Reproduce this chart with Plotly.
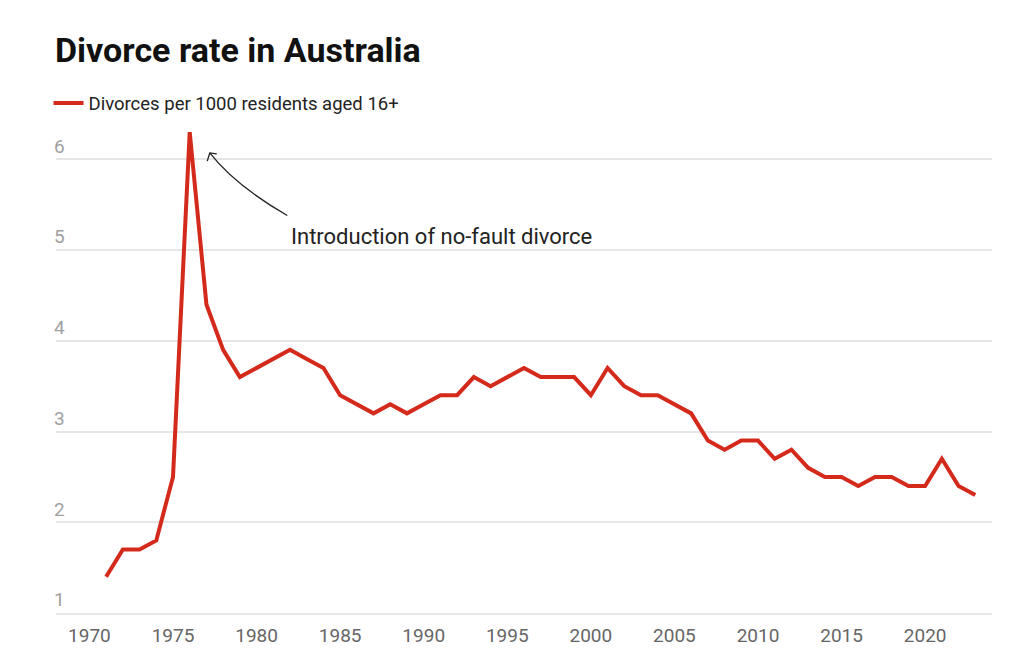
import plotly.graph_objects as go

years = list(range(1971, 2024))
rate = [1.4, 1.7, 1.7, 1.8, 2.5, 6.3, 4.4, 3.9, 3.6, 3.7,
        3.8, 3.9, 3.8, 3.7, 3.4, 3.3, 3.2, 3.3, 3.2, 3.3,
        3.4, 3.4, 3.6, 3.5, 3.6, 3.7, 3.6, 3.6, 3.6, 3.4,
        3.7, 3.5, 3.4, 3.4, 3.3, 3.2, 2.9, 2.8, 2.9, 2.9,
        2.7, 2.8, 2.6, 2.5, 2.5, 2.4, 2.5, 2.5, 2.4, 2.4,
        2.7, 2.4, 2.3]

x_ticks = [1970, 1975, 1980, 1985, 1990, 1995, 2000, 2005, 2010, 2015, 2020]
y_ticks = [1, 2, 3, 4, 5, 6]

series_name = "Divorces per 1000 residents aged 16+"
title_text = "Divorce rate in Australia"
note_text = "Introduction of no-fault divorce"

RED = "#d42a1c"
FONT = "Roboto"

fig = go.Figure()
fig.add_trace(go.Scatter(x=years, y=rate, mode="lines", name=series_name,
                         line=dict(color=RED, width=4), showlegend=True))

# curved arrow for the annotation
fig.add_shape(type="path", xref="x", yref="y",
              path="M 1981.84 5.38 Q 1978.73 5.71 1977.2 6.07",
              line=dict(color="#222222", width=1.3))
fig.add_shape(type="path", xref="x", yref="y",
              path="M 1977.05 5.98 L 1977.2 6.07 L 1977.62 6.06",
              line=dict(color="#222222", width=1.3))

fig.add_annotation(x=1981.95, y=5.15, xref="x", yref="y", text=note_text,
                   showarrow=False, xanchor="left", yanchor="middle",
                   font=dict(family=FONT, size=22, color="#222222"))

fig.update_layout(
    width=1024, height=661,
    margin=dict(l=56, r=32, t=123, b=48),
    paper_bgcolor="white", plot_bgcolor="white",
    font=dict(family=FONT),
    title=dict(text="<b>" + title_text + "</b>", x=55/1024, xref="container",
               xanchor="left", y=1-50/661, yanchor="middle",
               font=dict(family=FONT, size=34, color="#111111")),
    legend=dict(orientation="h", x=-0.008, xanchor="left", y=1.04, yanchor="middle",
                yref="paper", font=dict(family=FONT, size=18.5, color="#222222"),
                itemwidth=30),
    xaxis=dict(range=[1968, 2024], tickvals=x_ticks, ticktext=[str(v) for v in x_ticks],
               showgrid=False, zeroline=False, showline=True, linecolor="#e6e6e6",
               linewidth=1.5, ticks="", ticklabelstandoff=4,
               tickfont=dict(family=FONT, size=19, color="#666666")),
    yaxis=dict(range=[1, 6.4], tickvals=y_ticks, ticktext=[str(v) for v in y_ticks],
               showgrid=True, gridcolor="#e6e6e6", gridwidth=1.5, zeroline=False,
               ticks="", ticklabelposition="inside top", ticklabelstandoff=-5,
               tickfont=dict(family=FONT, size=19, color="#a0a0a0")),
)

fig.write_html("out.html")
